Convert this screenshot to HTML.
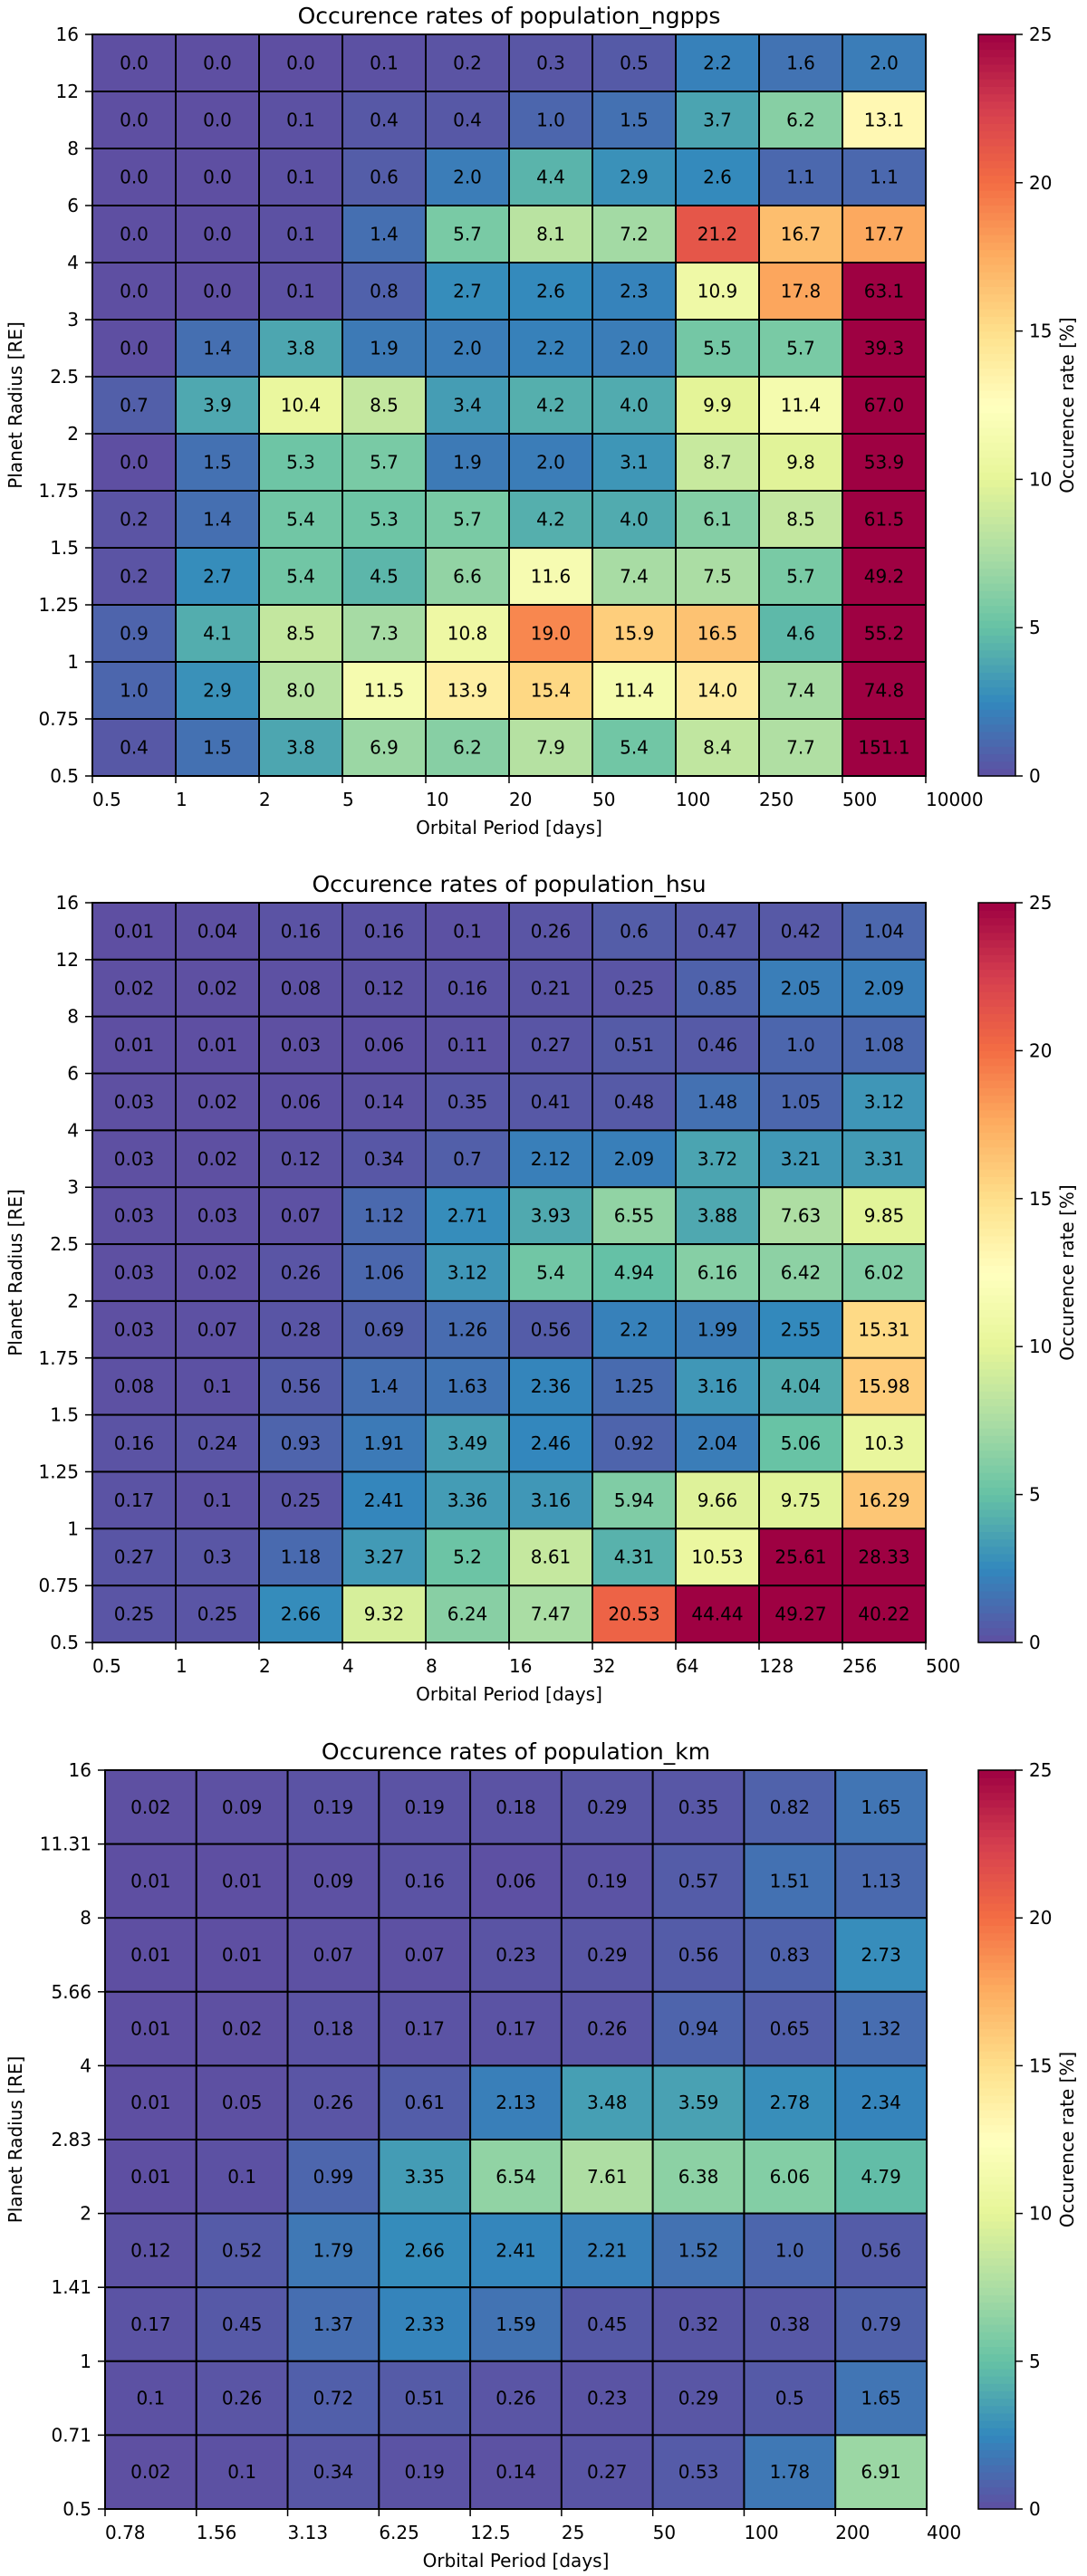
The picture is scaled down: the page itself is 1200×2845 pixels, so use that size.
<!DOCTYPE html>
<html><head><meta charset="utf-8"><style>
html,body{margin:0;padding:0;background:#fff;}
svg{display:block;font-family:"DejaVu Sans","Liberation Sans",sans-serif;}
</style></head><body>
<svg id="root" width="1200" height="2845" viewBox="0 0 1200 2845" xmlns="http://www.w3.org/2000/svg"></svg>
<script>
const yTicks1 = ["16","12","8","6","4","3","2.5","2","1.75","1.5","1.25","1","0.75","0.5"];
const xTicks1 = ["0.5","1","2","5","10","20","50","100","250","500","10000"];
const values1 = [
[0.0,0.0,0.0,0.1,0.2,0.3,0.5,2.2,1.6,2.0],
[0.0,0.0,0.1,0.4,0.4,1.0,1.5,3.7,6.2,13.1],
[0.0,0.0,0.1,0.6,2.0,4.4,2.9,2.6,1.1,1.1],
[0.0,0.0,0.1,1.4,5.7,8.1,7.2,21.2,16.7,17.7],
[0.0,0.0,0.1,0.8,2.7,2.6,2.3,10.9,17.8,63.1],
[0.0,1.4,3.8,1.9,2.0,2.2,2.0,5.5,5.7,39.3],
[0.7,3.9,10.4,8.5,3.4,4.2,4.0,9.9,11.4,67.0],
[0.0,1.5,5.3,5.7,1.9,2.0,3.1,8.7,9.8,53.9],
[0.2,1.4,5.4,5.3,5.7,4.2,4.0,6.1,8.5,61.5],
[0.2,2.7,5.4,4.5,6.6,11.6,7.4,7.5,5.7,49.2],
[0.9,4.1,8.5,7.3,10.8,19.0,15.9,16.5,4.6,55.2],
[1.0,2.9,8.0,11.5,13.9,15.4,11.4,14.0,7.4,74.8],
[0.4,1.5,3.8,6.9,6.2,7.9,5.4,8.4,7.7,151.1]];
const labels1 = values1.map(r=>r.map(v=>v.toFixed(1)));

const yTicks2 = yTicks1;
const xTicks2 = ["0.5","1","2","4","8","16","32","64","128","256","500"];
const labels2 = [
["0.01","0.04","0.16","0.16","0.1","0.26","0.6","0.47","0.42","1.04"],
["0.02","0.02","0.08","0.12","0.16","0.21","0.25","0.85","2.05","2.09"],
["0.01","0.01","0.03","0.06","0.11","0.27","0.51","0.46","1.0","1.08"],
["0.03","0.02","0.06","0.14","0.35","0.41","0.48","1.48","1.05","3.12"],
["0.03","0.02","0.12","0.34","0.7","2.12","2.09","3.72","3.21","3.31"],
["0.03","0.03","0.07","1.12","2.71","3.93","6.55","3.88","7.63","9.85"],
["0.03","0.02","0.26","1.06","3.12","5.4","4.94","6.16","6.42","6.02"],
["0.03","0.07","0.28","0.69","1.26","0.56","2.2","1.99","2.55","15.31"],
["0.08","0.1","0.56","1.4","1.63","2.36","1.25","3.16","4.04","15.98"],
["0.16","0.24","0.93","1.91","3.49","2.46","0.92","2.04","5.06","10.3"],
["0.17","0.1","0.25","2.41","3.36","3.16","5.94","9.66","9.75","16.29"],
["0.27","0.3","1.18","3.27","5.2","8.61","4.31","10.53","25.61","28.33"],
["0.25","0.25","2.66","9.32","6.24","7.47","20.53","44.44","49.27","40.22"]];
const values2 = labels2.map(r=>r.map(Number));

const yTicks3 = ["16","11.31","8","5.66","4","2.83","2","1.41","1","0.71","0.5"];
const xTicks3 = ["0.78","1.56","3.13","6.25","12.5","25","50","100","200","400"];
const labels3 = [
["0.02","0.09","0.19","0.19","0.18","0.29","0.35","0.82","1.65"],
["0.01","0.01","0.09","0.16","0.06","0.19","0.57","1.51","1.13"],
["0.01","0.01","0.07","0.07","0.23","0.29","0.56","0.83","2.73"],
["0.01","0.02","0.18","0.17","0.17","0.26","0.94","0.65","1.32"],
["0.01","0.05","0.26","0.61","2.13","3.48","3.59","2.78","2.34"],
["0.01","0.1","0.99","3.35","6.54","7.61","6.38","6.06","4.79"],
["0.12","0.52","1.79","2.66","2.41","2.21","1.52","1.0","0.56"],
["0.17","0.45","1.37","2.33","1.59","0.45","0.32","0.38","0.79"],
["0.1","0.26","0.72","0.51","0.26","0.23","0.29","0.5","1.65"],
["0.02","0.1","0.34","0.19","0.14","0.27","0.53","1.78","6.91"]];
const values3 = labels3.map(r=>r.map(Number));
const cbTicks = [0,5,10,15,20,25];

const spectral = [[0.619,0.004,0.259],[0.835,0.243,0.310],[0.957,0.427,0.263],[0.992,0.682,0.380],[0.996,0.878,0.545],[1,1,0.749],[0.902,0.961,0.596],[0.671,0.867,0.643],[0.400,0.761,0.647],[0.196,0.533,0.741],[0.369,0.310,0.635]].reverse();
function cmap(v){let t=Math.max(0,Math.min(1,v/25))*(spectral.length-1);let i=Math.min(Math.floor(t),spectral.length-2);let f=t-i;
 const c=spectral[i].map((a,k)=>Math.round(255*(a+(spectral[i+1][k]-a)*f)));return `rgb(${c[0]},${c[1]},${c[2]})`;}
const NS="http://www.w3.org/2000/svg";const root=document.getElementById('root');
function mk(tag,attrs,parent,text){const e=document.createElementNS(NS,tag);for(const k in attrs)e.setAttribute(k,attrs[k]);if(text!==undefined)e.textContent=text;(parent||root).appendChild(e);return e;}

let gid=0;
function chart(title,L,T,W,H,values,labels,xt,yt){
 gid++;
 const g=mk('g',{});
 
 
 const nr=values.length,nc=values[0].length,cw=W/nc,rh=H/nr;
 const xs=i=>L+i*cw, ys=j=>T+j*rh;
 const t=mk('text',{x:L+W/2,y:T-12,'font-size':25,'text-anchor':'middle',fill:'#000'},g,title);
 
 
 for(let r=0;r<nr;r++)for(let c=0;c<nc;c++){
  const rc=mk('rect',{x:xs(c),y:ys(r),width:cw,height:rh,fill:cmap(values[r][c]),stroke:'#000','stroke-width':2},g);
  
  
  const tx=mk('text',{x:xs(c)+cw/2,y:ys(r)+rh/2+7,'font-size':20,'text-anchor':'middle',fill:'#000'},g,labels[r][c]);
  
  
 }
 xt.forEach((s,i)=>{const x=xs(i);mk('line',{x1:x,y1:T+H,x2:x,y2:T+H+8,stroke:'#000','stroke-width':1.5},g);
  const e=mk('text',{x:x,y:T+H+33,'font-size':20,'text-anchor':'start',fill:'#000'},g,s);
  
  });
 yt.forEach((s,j)=>{const y=ys(j);mk('line',{x1:L-8,y1:y,x2:L,y2:y,stroke:'#000','stroke-width':1.5},g);
  const e=mk('text',{x:L-15,y:y+7,'font-size':20,'text-anchor':'end',fill:'#000'},g,s);
  
  });
 const xl=mk('text',{x:L+W/2,y:T+H+64,'font-size':20,'text-anchor':'middle',fill:'#000'},g,'Orbital Period [days]');
 
 
 const yl=mk('text',{x:0,y:0,'font-size':20,'text-anchor':'middle',fill:'#000',transform:`translate(24,${T+H/2}) rotate(-90)`},g,'Planet Radius [RE]');
 
 
 // colorbar
 const cx=1080,cwid=41;const cb=mk('g',{},g);
 
 
 const steps=100;for(let k=0;k<steps;k++){mk('rect',{x:cx,y:T+H-(k+1)*H/steps,width:cwid,height:H/steps+0.6,fill:cmap((k+0.5)/steps*25)},cb);}
 mk('rect',{x:cx,y:T,width:cwid,height:H,fill:'none',stroke:'#000','stroke-width':1.5},cb);
 cbTicks.forEach(v=>{const y=T+H-v/25*H;mk('line',{x1:cx+cwid,y1:y,x2:cx+cwid+8,y2:y,stroke:'#000','stroke-width':1.5},cb);
  const e=mk('text',{x:cx+cwid+15,y:y+7,'font-size':20,fill:'#000'},cb,String(v));
  
  });
 const cl=mk('text',{x:0,y:0,'font-size':20,'text-anchor':'middle',fill:'#000',transform:`translate(1185,${T+H/2}) rotate(-90)`},cb,'Occurence rate [%]');
 
 
}
chart('Occurence rates of population_ngpps',102,38,920,819,values1,labels1,xTicks1,yTicks1);
chart('Occurence rates of population_hsu',102,997,920,817,values2,labels2,xTicks2,yTicks2);
chart('Occurence rates of population_km',116,1955,907,816,values3,labels3,xTicks3,yTicks3);
</script>
</body></html>
